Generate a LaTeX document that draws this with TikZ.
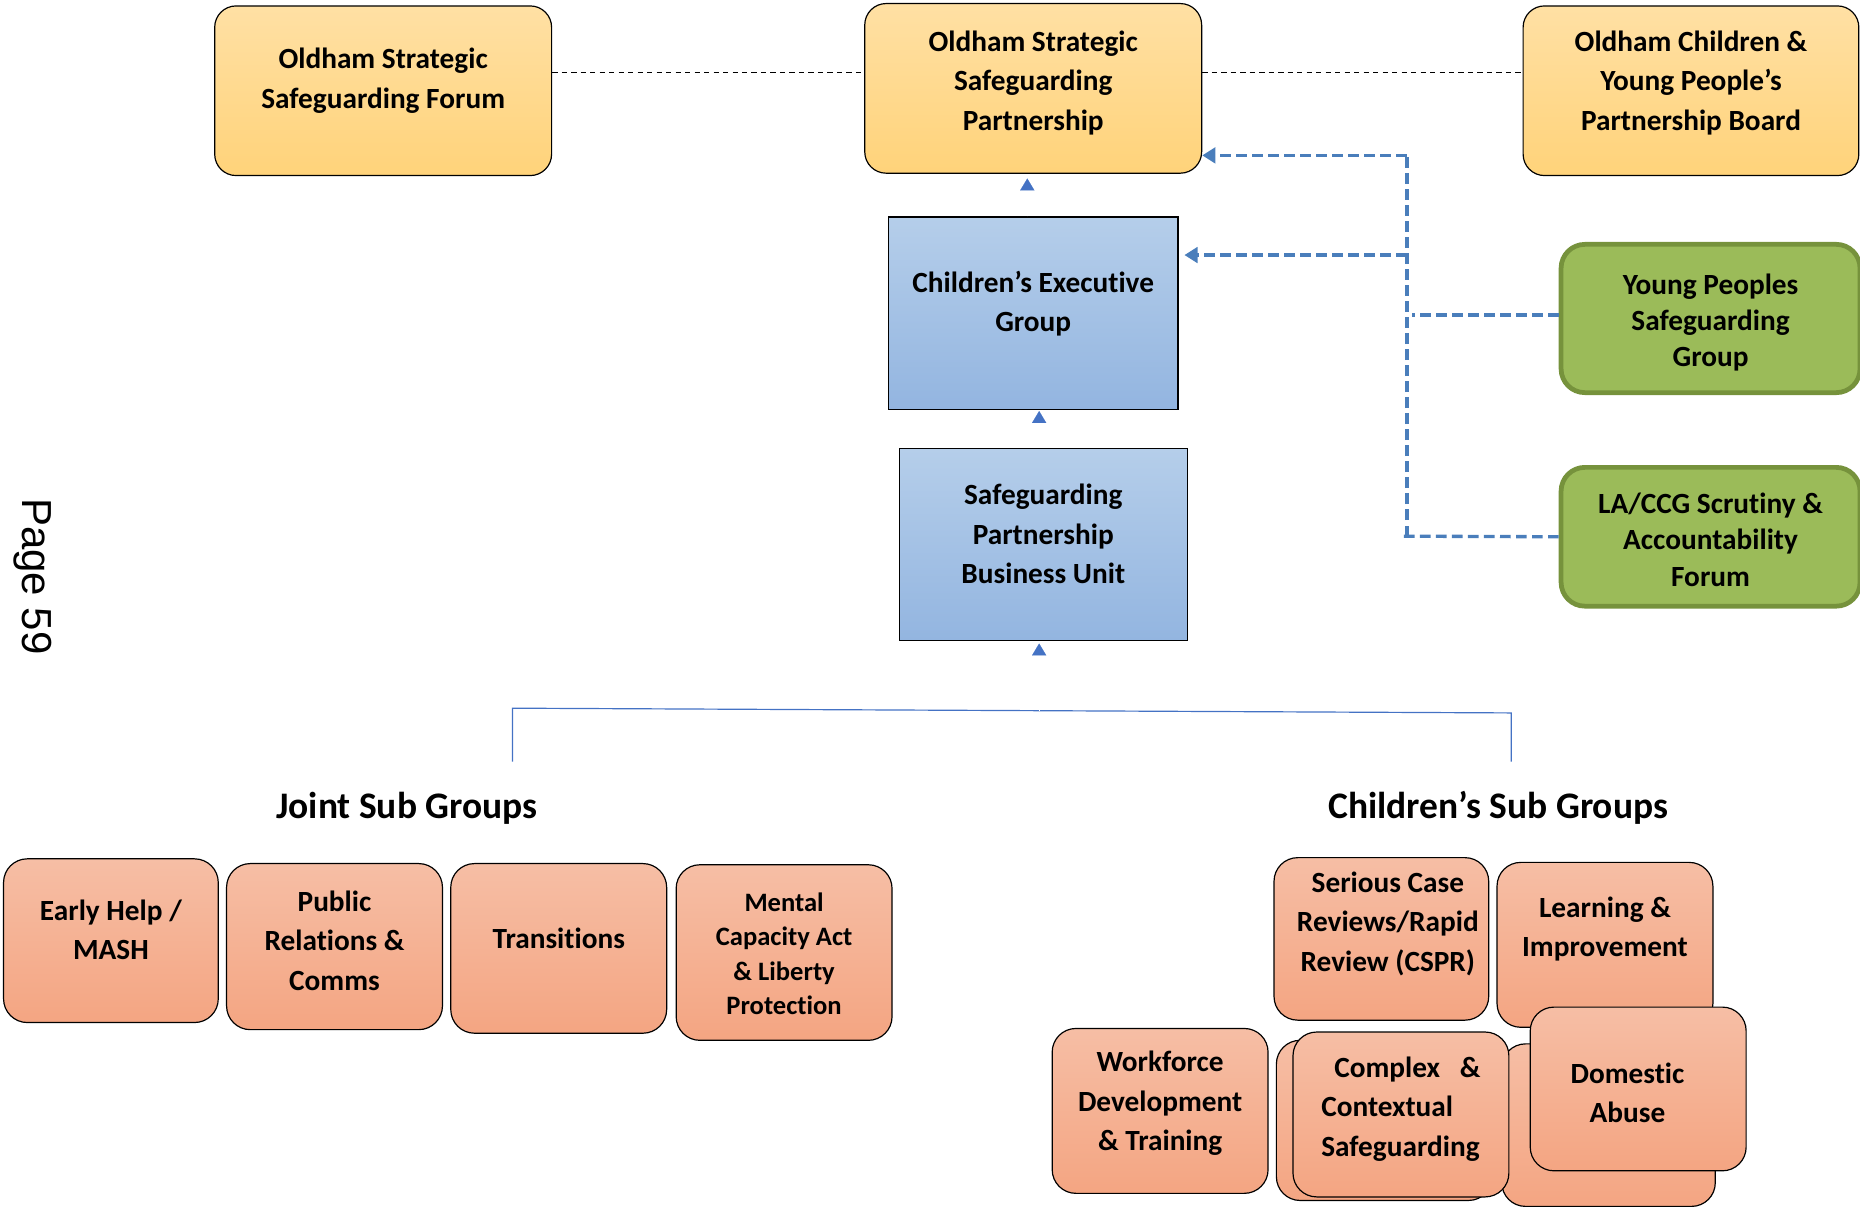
\documentclass[tikz,border=0pt]{standalone}
\usepackage{fontspec}
\setmainfont{Carlito}[Ligatures={TeX,NoCommon}]
\newfontfamily\pagesans{Liberation Sans}
\usetikzlibrary{calc,arrows.meta}

\definecolor{ytop}{HTML}{FFE0A4}
\definecolor{ybot}{HTML}{FFD37A}
\definecolor{btop}{HTML}{B5CEEA}
\definecolor{bbot}{HTML}{93B5E0}
\definecolor{salmontop}{HTML}{F6BEA5}
\definecolor{salmonbot}{HTML}{F4A582}
\definecolor{gfill}{HTML}{9BBB59}
\definecolor{gline}{HTML}{76923C}
\definecolor{linkblue}{HTML}{4A7EBB}
\definecolor{tipblue}{HTML}{4472C4}

\newcommand{\boxfont}{\fontsize{24.7}{33}\selectfont\bfseries}
\newcommand{\greenfont}{\fontsize{24.7}{30.5}\selectfont\bfseries}
\newcommand{\smallboxfont}{\fontsize{22.4}{29}\selectfont\bfseries}
\newcommand{\headfont}{\fontsize{31.6}{38}\selectfont\bfseries}
\newcommand{\lifted}[3][c]{\raisebox{#2}[\height][\depth]{\begin{tabular}{@{}#1@{}}#3\end{tabular}}}

\tikzset{
  ybox/.style={draw=black, line width=1pt, rounded corners=18pt, top color=ytop, bottom color=ybot,
    minimum width=284pt, minimum height=143pt, font=\boxfont},
  bbox/.style={draw=black, line width=1pt, top color=btop, bottom color=bbot,
    minimum height=162pt, font=\boxfont},
  gbox/.style={draw=gline, line width=4pt, fill=gfill, rounded corners=20pt,
    minimum width=252pt, font=\greenfont},
  sbox/.style={draw=black, line width=1pt, rounded corners=20pt, top color=salmontop, bottom color=salmonbot,
    minimum width=182pt, minimum height=139pt, font=\boxfont},
  head/.style={font=\headfont},
  tieline/.style={draw=black, line width=1.2pt, dash pattern=on 4.5pt off 3.5pt},
  link/.style={draw=linkblue, line width=2.8pt, dash pattern=on 9pt off 4.5pt},
  linktip/.style={-{Triangle[width=13pt,length=11pt]}},
  uptip/.style={draw=white, line width=0.1pt, -{Triangle[color=tipblue,width=12pt,length=10pt]}},
  treeline/.style={draw=tipblue, line width=1pt}
}

\begin{document}
\begin{tikzpicture}[x=1pt,y=-1pt]
    \useasboundingbox (0,0) rectangle (1568,1019);

    % top row
    \node[ybox] (ossf) at (323,76.5) {\lifted{8.5pt}{Oldham Strategic\\Safeguarding Forum}};
    \node[ybox] (ossp) at (871,74.5) {\lifted{4.5pt}{Oldham Strategic\\Safeguarding\\Partnership}};
    \node[ybox, minimum width=283pt] (ocyp) at (1425.5,76.5) {\lifted{6.5pt}{Oldham Children \&\\Young People’s\\Partnership Board}};

    % middle column
    \node[bbox, minimum width=244pt] (ceg) at (871,264) {\lifted{7.5pt}{Children’s Executive\\Group}};
    \node[bbox, minimum width=243pt] (spbu) at (879.5,459) {\lifted{7pt}{Safeguarding\\Partnership\\Business Unit}};

    % right column
    \node[gbox, minimum height=125pt] (ypsg) at (1442,268.5) {\lifted{-4pt}{Young Peoples\\Safeguarding\\Group}};
    \node[gbox, minimum height=117pt] (lacg) at (1442,452.5) {\lifted{-5pt}{LA/CCG Scrutiny \&\\Accountability\\Forum}};

    \node[rotate=-90, font=\pagesans\fontsize{35.4}{40}\selectfont] (pagenum) at (28,486) {Page 59};

    % dashed ties between the top boxes
    \coordinate (tiey) at (0,61);
    \draw[tieline] (ossf.east |- tiey) -- (ossp.west |- tiey);
    \draw[tieline] (ossp.east |- tiey) -- (ocyp.west |- tiey);

    % reporting lines
    \coordinate (bustop) at (1186,131);
    \coordinate (busceg) at (1186,215);
    \coordinate (busbot) at (1186,452);
    \draw[link] (busbot) -- (bustop);
    \draw[link,linktip] (bustop) -- (bustop -| ossp.east);
    \draw[link,linktip] (busceg) -- ($(busceg -| ceg.east)+(5,0)$);
    \draw[link] ($(ypsg.west)+(0,-3)$) -- ++(-124,0);
    \draw[link] (lacg.west) -- ($(busbot)+(-6,0)$);

    % sub group tree
    \coordinate (hub) at (876,599);
    \coordinate (jointtop) at (432,597);
    \coordinate (childtop) at (1274,601);
    \draw[treeline] ($(jointtop)+(0,45)$) -- (jointtop) -- (childtop) -- ++(0,41);

    \draw[uptip] ([xshift=-5pt]ceg.north) -- ($(ossp.south)+(-5,4)$);
    \draw[uptip] ($(spbu.north)+(-3.5,0)$) -- ($(ceg.south)+(5,1)$);
    \draw[uptip] (hub) -- ($(hub |- spbu.south)+(0,2)$);

    \node[head] (jointhead) at (343,681) {Joint Sub Groups};
    \node[head] (childhead) at (1263,681) {Children’s Sub Groups};

    % joint sub groups
    \node[sbox, minimum width=181pt, minimum height=138pt] (ehm) at (93.5,793) {\lifted{7pt}{Early Help /\\MASH}};
    \node[sbox, minimum height=140pt] (prc) at (282,798) {\lifted{3pt}{Public\\Relations \&\\Comms}};
    \node[sbox, minimum height=143pt] (trn) at (471,799.5) {\lifted{6.5pt}{Transitions}};
    \node[sbox, minimum height=148pt, font=\smallboxfont] (mca) at (661,803) {\lifted{-3pt}{Mental\\Capacity Act\\\& Liberty\\Protection}};

    % children's sub groups
    \node[sbox, minimum width=181pt, minimum height=137pt] (scr) at (1164.5,791.5) {\lifted[@{\hspace{11pt}}c]{12.5pt}{Serious Case\\Reviews/Rapid\\Review (CSPR)}};
    \node[sbox] (lip) at (1353,796.5) {\lifted{13pt}{Learning \&\\Improvement}};
    \node[sbox] (wdt) at (978,936.5) {\lifted{6.5pt}{Workforce\\Development\\\& Training}};
    \node[sbox, minimum height=135pt] (ccsback) at (1167,944.5) {};
    \node[sbox, minimum width=180pt, minimum height=137pt] (daback) at (1356,948.5) {};
    \node[sbox] (ccs) at (1181,939.5) {\lifted[l]{4.5pt}{\hspace*{11pt}Complex\ \ \ \&\\Contextual\\Safeguarding}};
    \node[sbox, minimum height=138pt] (dab) at (1381,918) {\lifted[c@{\hspace{18pt}}]{-5.5pt}{Domestic\\Abuse}};
  \end{tikzpicture}
\end{document}
